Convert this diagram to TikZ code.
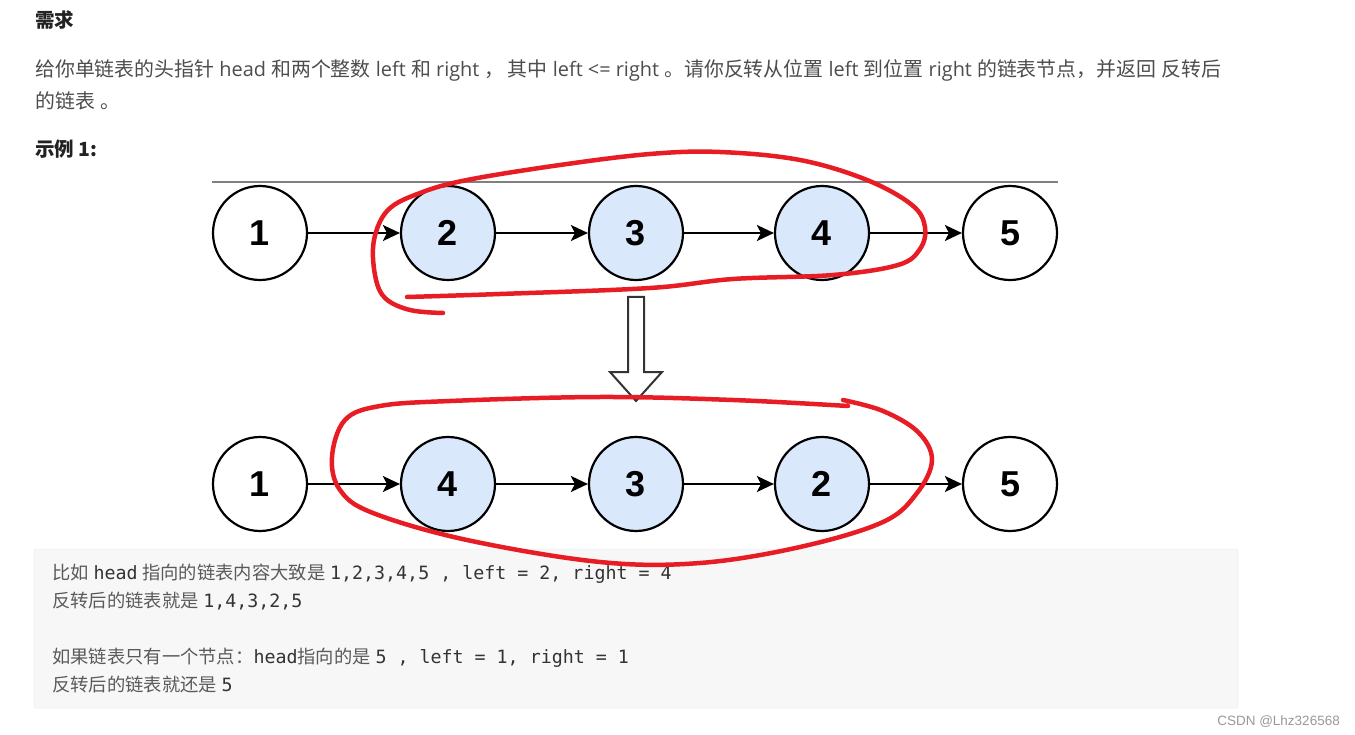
\documentclass[tikz,border=0pt]{standalone}
\usepackage{fontspec}
\setmainfont{Open Sans}
\newfontfamily\cjk{Noto Sans CJK SC}
\newfontfamily\numfont{Liberation Sans}
\newfontfamily\monof{DejaVu Sans Mono}
\usetikzlibrary{arrows.meta}
\definecolor{nodeblue}{HTML}{DAE8FC}
\definecolor{penred}{HTML}{E81C24}
\definecolor{txt}{HTML}{4D4D4D}
\definecolor{head}{HTML}{222222}
\definecolor{codebg}{HTML}{F7F7F7}
\definecolor{codeborder}{HTML}{E6E6E6}
\definecolor{codecjk}{HTML}{5A5A5A}
\definecolor{codelat}{HTML}{333333}
\tikzset{
  lnode/.style={circle, draw=black, line width=2.2pt, minimum size=94pt, inner sep=0pt, fill=white, font=\numfont\bfseries\fontsize{36}{36}\selectfont},
  selnode/.style={lnode, fill=nodeblue},
  link/.style={line width=2pt, -{Stealth[length=17pt,width=16pt,inset=4pt]}},
  para/.style={anchor=base west, inner sep=0pt, text=txt, font=\fontsize{19.9}{19.9}\selectfont},
  codeline/.style={anchor=base west, inner sep=0pt, text=codelat, font=\fontsize{18.3}{18.3}\selectfont},
  pen/.style={draw=penred, line width=4.5pt, line cap=round, line join=round},
}
\begin{document}
\begin{tikzpicture}[x=1pt, y=-1pt]
\useasboundingbox[fill=white] (0,0) rectangle (1355,735);
% texts
\node[para, text=head, font=\cjk\bfseries\fontsize{19.5}{19.5}\selectfont] (h1) at (35,27.5) {需求};
\node[para] (p1) at (35,76.5) {{\cjk 给你单链表的头指针} head {\cjk 和两个整数} left {\cjk 和} right {\cjk ，}\,{\cjk 其中} left <= right {\cjk 。请你反转从位置} left {\cjk 到位置} right {\cjk 的链表节点，并返回} {\cjk 反转后}};
\node[para] (p2) at (35,108.5) {{\cjk 的链表} {\cjk 。}};
\node[para, text=head, font=\cjk\bfseries\fontsize{19.5}{19.5}\selectfont] (h2) at (35,156.5) {示例 1:};
% gray line
\draw[line width=2pt, draw=black!50] (212,182) -- (1058,182);
% top row
\node[lnode] (t1) at (260,233) {1};
\node[selnode] (t2) at (448,233) {2};
\node[selnode] (t3) at (636,233) {3};
\node[selnode] (t4) at (822,233) {4};
\node[lnode] (t5) at (1010,233) {5};
\draw[link] (t1) -- (t2);
\draw[link] (t2) -- (t3);
\draw[link] (t3) -- (t4);
\draw[link] (t4) -- (t5);
% big arrow
\draw[line width=2pt, draw=black!80, fill=white, line join=miter]
  (628,297) -- (644,297) -- (644,372) -- (662,372) -- (636,401) -- (610,372) -- (628,372) -- cycle;
% bottom row
\node[lnode] (b1) at (260,484) {1};
\node[selnode] (b2) at (448,484) {4};
\node[selnode] (b3) at (636,484) {3};
\node[selnode] (b4) at (822,484) {2};
\node[lnode] (b5) at (1010,484) {5};
\draw[link] (b1) -- (b2);
\draw[link] (b2) -- (b3);
\draw[link] (b3) -- (b4);
\draw[link] (b4) -- (b5);
% code box
\draw[fill=codebg, draw=codeborder, rounded corners=2pt] (34,549) rectangle (1238,708);
\node[codeline] (c1) at (52,579.5) {{\cjk\color{codecjk}比如} {\monof head} {\cjk\color{codecjk}指向的链表内容大致是} {\monof 1,2,3,4,5 , left = 2, right = 4}};
\node[codeline] (c2) at (52,607.5) {{\cjk\color{codecjk}反转后的链表就是} {\monof 1,4,3,2,5}};
\node[codeline] (c3) at (52,663.5) {{\cjk\color{codecjk}如果链表只有一个节点：}{\monof head}{\cjk\color{codecjk}指向的是} {\monof 5~, left = 1, right = 1}};
\node[codeline] (c4) at (52,691.5) {{\cjk\color{codecjk}反转后的链表就还是} {\monof 5}};
% red loops (drawn on top)
\draw[pen] plot[smooth, tension=0.6] coordinates {(407,297) (500,294) (650,288) (733,279) (833,275) (898,265) (920,249) (925,227) (912,205) (867,180) (800,160) (720,152) (650,154) (560,165) (467,180) (420,193) (388,210) (374,240) (375,275) (385,298) (410,310) (443,313)};
\draw[pen] plot[smooth, tension=0.6] coordinates {(843,400) (883,411) (918,432) (932,460) (917,493) (883,522) (800,547) (700,563) (600,562) (467,540) (373,513) (340,490) (332,457) (345,420) (380,406) (450,401) (600,397) (733,400) (848,406)};
% watermark
\node[anchor=base east, inner sep=0pt, text=black!40, font=\numfont\fontsize{13.5}{13.5}\selectfont] (wm) at (1340,725) {CSDN @Lhz326568};
\end{tikzpicture}
\end{document}
